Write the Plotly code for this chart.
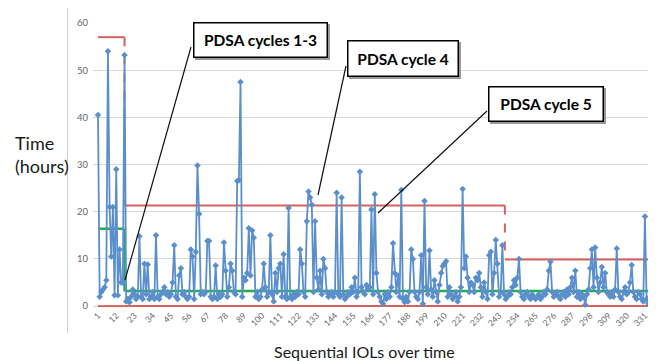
import plotly.graph_objects as go

# ---- data ----
iol_times = [
    40.5, 2.0, 3.0, 3.5, 4.0, 5.5, 54.0, 21.0, 10.5, 21.0,
    2.3, 29.0, 2.3, 12.0, 5.0, 5.0, 53.2, 1.0, 1.5, 0.8,
    2.0, 3.5, 2.5, 1.5, 2.0, 14.8, 2.0, 1.5, 9.0, 2.5,
    8.8, 1.5, 2.0, 3.0, 1.5, 15.0, 2.0, 1.5, 2.5, 3.0,
    4.0, 2.5, 3.0, 2.0, 2.5, 5.0, 12.9, 2.0, 1.5, 6.5,
    8.0, 2.5, 3.0, 2.0, 1.5, 2.0, 12.0, 10.5, 1.5, 11.5,
    29.8, 19.5, 2.5, 3.0, 2.5, 3.0, 13.8, 13.8, 2.0, 1.5,
    2.0, 8.6, 1.5, 2.5, 2.0, 2.5, 13.5, 7.5, 2.0, 4.0,
    9.0, 7.5, 3.0, 2.5, 26.5, 26.7, 47.5, 2.0, 6.0, 5.5,
    7.0, 16.5, 6.5, 16.0, 14.5, 2.0, 3.0, 1.5, 2.0, 3.5,
    9.0, 4.0, 2.0, 3.0, 15.0, 2.5, 1.0, 7.0, 3.0, 8.0,
    9.0, 2.0, 11.0, 2.0, 1.5, 20.8, 2.0, 1.5, 2.5, 2.0,
    3.0, 2.5, 12.0, 9.0, 3.0, 2.0, 18.0, 24.3, 23.0, 21.5,
    3.0, 18.0, 6.0, 3.5, 7.5, 2.5, 10.0, 8.0, 3.0, 2.0,
    2.5, 3.0, 2.0, 3.0, 24.0, 2.5, 2.0, 23.0, 2.5, 1.5,
    2.0, 3.0, 2.5, 4.0, 3.0, 6.0, 2.0, 3.0, 28.5, 4.0,
    3.0, 2.5, 4.5, 3.5, 4.0, 20.5, 2.5, 23.7, 7.0, 3.0,
    2.0, 1.0, 0.5, 2.5, 1.5, 3.0, 2.0, 4.0, 13.3, 7.0,
    3.0, 6.5, 2.0, 24.6, 1.5, 0.8, 2.0, 1.0, 3.0, 12.0,
    10.0, 3.0, 2.0, 1.5, 3.0, 10.8, 0.5, 22.3, 4.0, 2.5,
    11.8, 3.5, 2.0, 5.5, 3.0, 1.0, 4.5, 7.0, 8.5, 9.0,
    9.5, 2.0, 4.0, 2.5, 1.5, 2.0, 3.0, 1.0, 2.0, 4.0,
    24.8, 8.0, 10.5, 6.0, 3.0, 5.0, 4.5, 3.0, 6.0, 5.5,
    7.0, 4.0, 2.0, 5.0, 3.0, 1.5, 10.8, 11.5, 2.5, 7.0,
    14.0, 9.0, 2.0, 3.0, 12.9, 2.5, 1.5, 2.0, 3.0, 2.5,
    4.0, 5.5, 4.5, 6.0, 10.0, 3.0, 2.0, 1.5, 2.5, 3.0,
    2.0, 1.5, 2.5, 2.0, 1.5, 2.0, 2.5, 1.5, 2.0, 3.0,
    2.5, 3.5, 7.5, 9.4, 3.0, 2.0, 2.5, 3.0, 2.0, 1.5,
    2.5, 3.0, 2.0, 3.5, 2.5, 4.0, 6.0, 3.0, 7.5, 2.0,
    3.0, 1.5, 2.5, 2.0, 0.3, 2.5, 3.5, 8.0, 12.0, 4.0,
    12.4, 6.0, 3.0, 5.0, 8.3, 4.0, 7.0, 3.0, 2.5, 2.0,
    3.0, 2.0, 3.5, 12.2, 3.0, 2.0, 1.5, 3.0, 4.0, 2.5,
    3.0, 5.0, 8.7, 3.0, 2.0, 1.5, 3.0, 2.5, 1.5, 1.0,
    19.0, 1.5, 0.5, 2.0, 3.0, 3.5,
]
iol_index = list(range(1, len(iol_times) + 1))

phase_bounds = [1, 17, 246.5, 336]
phase_ucl = [57.0, 21.3, 9.9]
phase_mean = [16.4, 3.2, 3.2]
phase_lcl = [0.0, 0.0, 0.0]

x_tick_labels = [1, 12, 23, 34, 45, 56, 67, 78, 89, 100, 111, 122, 133, 144, 155,
                 166, 177, 188, 199, 210, 221, 232, 243, 254, 265, 276, 287, 298,
                 309, 320, 331]
y_ticks = [0, 10, 20, 30, 40, 50, 60]

callouts = ["PDSA cycles 1-3", "PDSA cycle 4", "PDSA cycle 5"]

# ---- styling / layout ----
OFF = 8  # page body margin: the figure starts 8px right/down in the window
W, H = 656 - OFF, 361 - OFF
ML, MR, MT, MB = 93 - OFF, 0, 23 - OFF, 53
PW, PH = W - ML - MR, H - MT - MB
BLUE = "#5b8fcc"
RED = "#d4625f"
GREEN = "#1fb04c"
FONT = "Lato"


def px(xp):
    return (xp - OFF - ML) / PW


def py(yp):
    return (361 - MB - yp) / PH


fig = go.Figure()

for i in range(len(phase_ucl)):
    xs = [phase_bounds[i], phase_bounds[i + 1]]
    fig.add_trace(go.Scatter(x=xs, y=[phase_ucl[i]] * 2, mode="lines",
                             line=dict(color=RED, width=2), hoverinfo="skip"))
    fig.add_trace(go.Scatter(x=xs, y=[phase_lcl[i]] * 2, mode="lines",
                             line=dict(color=RED, width=2), hoverinfo="skip"))
    fig.add_trace(go.Scatter(x=xs, y=[phase_mean[i]] * 2, mode="lines",
                             line=dict(color=GREEN, width=2.5), hoverinfo="skip"))
for i in range(1, len(phase_ucl)):
    b = phase_bounds[i]
    if phase_ucl[i] != phase_ucl[i - 1]:
        fig.add_trace(go.Scatter(x=[b, b], y=[phase_ucl[i - 1], phase_ucl[i]], mode="lines",
                                 line=dict(color=RED, width=2, dash="dash"), hoverinfo="skip"))
    if phase_mean[i] != phase_mean[i - 1]:
        fig.add_trace(go.Scatter(x=[b, b], y=[phase_mean[i - 1], phase_mean[i]], mode="lines",
                                 line=dict(color=GREEN, width=2.5), hoverinfo="skip"))

fig.add_trace(go.Scatter(x=iol_index, y=iol_times, mode="lines+markers",
                         line=dict(color=BLUE, width=1.8),
                         marker=dict(symbol="diamond", size=5, color=BLUE)))

per = PW / 339.7
x_min = 1 - (98 - 93) / per
x_max = x_min + PW / per

fig.update_xaxes(range=[x_min, x_max], tickmode="array", tickvals=x_tick_labels,
                 ticktext=[str(v) for v in x_tick_labels], tickangle=-45,
                 tickfont=dict(family=FONT, size=8.5, color="#666666"),
                 showgrid=False, zeroline=False, showline=False, ticks="",
                 automargin=False)
fig.update_yaxes(range=[-0.4, 60], tickmode="array", tickvals=y_ticks,
                 tickfont=dict(family=FONT, size=9.5, color="#666666"),
                 ticklabelstandoff=4,
                 showgrid=True, gridcolor="#d9d9d9", gridwidth=1,
                 zeroline=False, showline=False, ticks="", automargin=False)

shapes = []
shapes.append(dict(type="line", xref="paper", yref="paper", x0=px(67.5), x1=px(67.5),
                   y0=py(8), y1=py(333), line=dict(color="#cfcfcf", width=1)))

boxes = [
    (193, 22, 328, 58),
    (347, 40, 459, 77),
    (488, 86, 604, 122),
]
leaders = [
    (191, 47, 125, 280),
    (346, 66, 318, 195),
    (487, 111, 378, 213),
]
for (x0, y0, x1, y1) in leaders:
    shapes.append(dict(type="line", xref="paper", yref="paper", x0=px(x0), y0=py(y0),
                       x1=px(x1), y1=py(y1), line=dict(color="#111111", width=1.2)))
for (x0, y0, x1, y1) in boxes:
    shapes.append(dict(type="rect", xref="paper", yref="paper", x0=px(x0 + 2), y0=py(y0 + 2),
                       x1=px(x1 + 2), y1=py(y1 + 2), line=dict(width=0),
                       fillcolor="#9a9a9a", layer="above"))

annotations = []
for (x0, y0, x1, y1), txt in zip(boxes, callouts):
    annotations.append(dict(
        xref="paper", yref="paper", x=px((x0 + x1) / 2), y=py((y0 + y1) / 2),
        xanchor="center", yanchor="middle", showarrow=False,
        text="<b>" + txt + "</b>", font=dict(family=FONT, size=15.5, color="#000000"),
        bgcolor="#ffffff", bordercolor="#000000", borderwidth=1.5, borderpad=0,
        width=(x1 - x0) - 3, height=(y1 - y0) - 3))

annotations.append(dict(xref="paper", yref="paper", x=px(13), y=py(154),
                        xanchor="left", yanchor="middle", showarrow=False, align="left",
                        text="Time<br>(hours)", font=dict(family=FONT, size=18, color="#1a1a1a")))
annotations.append(dict(xref="paper", yref="paper", x=px(364), y=py(351),
                        xanchor="center", yanchor="middle", showarrow=False,
                        text="Sequential IOLs over time",
                        font=dict(family=FONT, size=16, color="#1a1a1a")))

fig.update_layout(width=W, height=H, margin=dict(l=ML, r=MR, t=MT, b=MB, autoexpand=False),
                  paper_bgcolor="white", plot_bgcolor="white", showlegend=False,
                  shapes=shapes, annotations=annotations)

fig.write_html("out.html")
